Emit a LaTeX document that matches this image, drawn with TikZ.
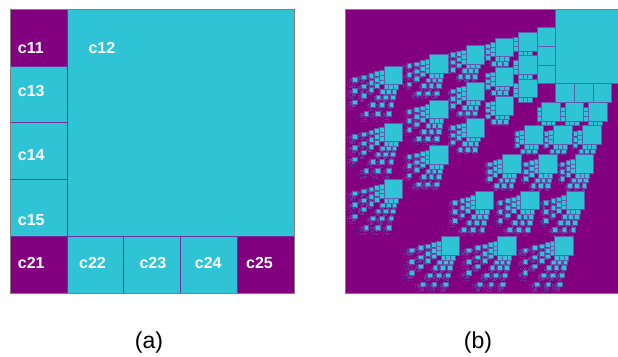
\documentclass[tikz,border=0pt]{standalone}
\usepackage{fontspec}
\setmainfont{Liberation Sans}
\definecolor{pur}{RGB}{130,0,128}
\definecolor{cya}{RGB}{46,196,214}
\definecolor{lin}{RGB}{112,48,160}
\definecolor{blin}{RGB}{96,92,176}
\definecolor{tinyc}{RGB}{110,52,162}
\definecolor{frm}{RGB}{128,128,128}
\tikzset{
  cellP/.style={fill=pur, draw=lin, line width=0.7pt},
  cellC/.style={fill=cya, draw=lin, line width=0.7pt},
  lab/.style={anchor=base west, inner sep=0pt, text=white, font=\fontsize{16}{16}\selectfont\bfseries},
  captxt/.style={anchor=base, inner sep=0pt, font=\fontsize{23}{23}\selectfont},
  leafA/.style={fill=cya, draw=blin, line width=0.6pt},
  leafB/.style={fill=tinyc},
  frame/.style={draw=frm, line width=0.8pt}
}
% recursive subdivision: #1 x, #2 y (downward), #3 side, #4 depth left, #5 count of small steps
\def\fcall#1#2#3#4#5{\edef\fnext{\noexpand\fsq{#1}{#2}{#3}{#4}{#5}}\fnext}
\def\fsq#1#2#3#4#5{%
  \ifnum#4=0\relax
    \ifnum#5<3\relax
      \path[leafA] (#1,-#2) rectangle ++(#3,-#3);%
    \else
      \path[leafB] (#1,-#2) rectangle ++(#3,-#3);%
    \fi
  \else
    \begingroup
      \edef\fc{\the\dimexpr(#3)/5\relax}%
      \edef\fd{\the\numexpr#4-1\relax}%
      \edef\fb{\the\numexpr#5+1\relax}%
      \edef\fxa{\the\dimexpr#1+\fc\relax}%
      \edef\fxb{\the\dimexpr#1+\fc*2\relax}%
      \edef\fxc{\the\dimexpr#1+\fc*3\relax}%
      \edef\fya{\the\dimexpr#2+\fc\relax}%
      \edef\fyb{\the\dimexpr#2+\fc*2\relax}%
      \edef\fyc{\the\dimexpr#2+\fc*3\relax}%
      \edef\fyd{\the\dimexpr#2+\fc*4\relax}%
      \edef\fbig{\the\dimexpr\fc*4\relax}%
      \fcall{\fxa}{#2}{\fbig}{\fd}{#5}%
      \ifnum\fb<4\relax
        \fcall{#1}{\fya}{\fc}{\fd}{\fb}%
        \fcall{#1}{\fyb}{\fc}{\fd}{\fb}%
        \fcall{#1}{\fyc}{\fc}{\fd}{\fb}%
        \fcall{\fxa}{\fyd}{\fc}{\fd}{\fb}%
        \fcall{\fxb}{\fyd}{\fc}{\fd}{\fb}%
        \fcall{\fxc}{\fyd}{\fc}{\fd}{\fb}%
      \fi
    \endgroup
  \fi}
\begin{document}
\begin{tikzpicture}[x=1pt,y=1pt]
\useasboundingbox (0,0) rectangle (618,-356);
% ---- panel (a)
\path[cellP] (10,-9) rectangle (66.9,-65.9);
\path[cellC] (66.9,-9) rectangle (294.5,-236.6);
\path[cellC] (10,-65.9) rectangle (66.9,-122.8);
\path[cellC] (10,-122.8) rectangle (66.9,-179.7);
\path[cellC] (10,-179.7) rectangle (66.9,-236.6);
\path[cellP] (10,-236.6) rectangle (66.9,-293.5);
\path[cellC] (66.9,-236.6) rectangle (123.8,-293.5);
\path[cellC] (123.8,-236.6) rectangle (180.7,-293.5);
\path[cellC] (180.7,-236.6) rectangle (237.6,-293.5);
\path[cellP] (237.6,-236.6) rectangle (294.5,-293.5);
\path[frame] (10,-9) rectangle (294.5,-293.5);
\node[lab] (l11) at (17.7,-53.3) {c11};
\node[lab] (l12) at (88.3,-53.3) {c12};
\node[lab] (l13) at (17.7,-96) {c13};
\node[lab] (l14) at (17.7,-160.7) {c14};
\node[lab] (l15) at (17.7,-225) {c15};
\node[lab] (l21) at (17.7,-268.3) {c21};
\node[lab] (l22) at (79,-268.3) {c22};
\node[lab] (l23) at (139.3,-268.3) {c23};
\node[lab] (l24) at (194.7,-268.3) {c24};
\node[lab] (l25) at (246,-268.3) {c25};
% ---- panel (b)
\begin{scope}
\clip (345,-8.2) rectangle (618,-294.3);
\fill[pur] (345.7,-9) rectangle (630.2,-293.5);
\fsq{345.7pt}{9pt}{284.5pt}{6}{0}
\path[frame] (345.7,-9) rectangle (630.2,-293.5);
\end{scope}
% ---- captions
\node[captxt] (capa) at (149,-348.5) {(a)};
\node[captxt] (capb) at (478,-348.5) {(b)};
\end{tikzpicture}
\end{document}
